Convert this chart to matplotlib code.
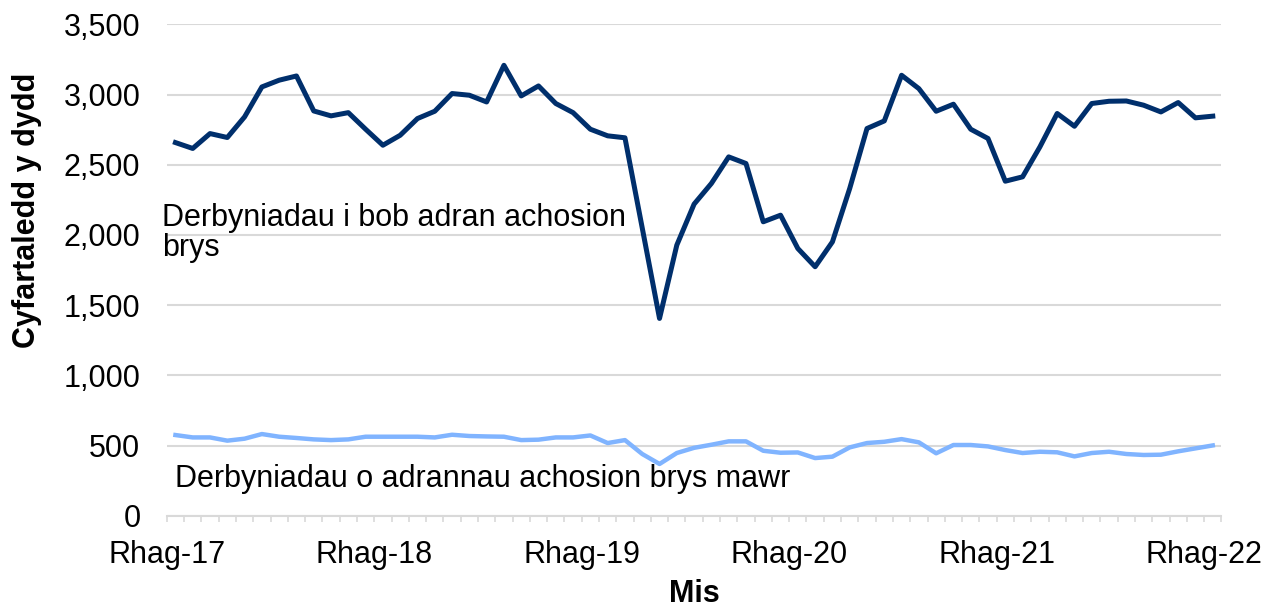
import matplotlib.pyplot as plt
import numpy as np

plt.rcParams['font.family'] = ['Liberation Sans', 'DejaVu Sans']

# %%
# Monthly values, Rhag-17 to Rhag-22
tick_labels = ['Rhag-17', 'Rhag-18', 'Rhag-19', 'Rhag-20', 'Rhag-21', 'Rhag-22']

all_ed = [2658, 2616, 2722, 2694, 2841, 3054, 3102, 3132, 2883, 2848,
          2871, 2753, 2639, 2710, 2829, 2881, 3007, 2995, 2947, 3208,
          2990, 3061, 2936, 2871, 2753, 2706, 2692, 2050, 1406, 1928,
          2220, 2367, 2556, 2509, 2094, 2141, 1904, 1774, 1951, 2331,
          2758, 2812, 3137, 3042, 2881, 2931, 2753, 2687, 2383, 2414,
          2627, 2865, 2774, 2936, 2952, 2954, 2924, 2876, 2943, 2834,
          2846]

major_ed = [576, 559, 559, 536, 550, 583, 564, 555, 545, 540,
            545, 564, 564, 564, 564, 559, 578, 569, 566, 564,
            540, 543, 559, 559, 573, 519, 540, 441, 370, 448,
            485, 507, 531, 531, 464, 450, 452, 412, 422, 488,
            519, 528, 547, 524, 446, 505, 505, 495, 469, 448,
            457, 453, 424, 448, 457, 441, 434, 436, 460, 481,
            502]

label_all = 'Derbyniadau i bob adran achosion\nbrys'
label_major = 'Derbyniadau o adrannau achosion brys mawr'

# %%
x = np.arange(len(all_ed))
fs = 22

fig = plt.figure(figsize=(12.83, 6.07), dpi=100)
ax = fig.add_axes([0.130, 0.150, 0.822, 0.810])

ax.plot(x, all_ed, color='#002F6C', lw=3.6, solid_joinstyle='round', zorder=3)
ax.plot(x, major_ed, color='#80B4FF', lw=3.2, solid_joinstyle='round', zorder=3)

ax.text(-0.8, 2225, label_all, fontsize=fs, va='top', ha='left',
        linespacing=1.0)
ax.text(0.0, 263, label_major, fontsize=fs, va='center', ha='left')

ax.set_xlim(-0.5, len(x) - 0.5)
ax.set_ylim(0, 3500)
ax.set_yticks(np.arange(0, 3501, 500))
ax.set_yticklabels([f'{v:,}' for v in range(0, 3501, 500)])
ax.yaxis.grid(True, color='#D9D9D9', lw=1.5)
ax.set_axisbelow(True)

major_pos = [i * 12 - 0.5 for i in range(len(tick_labels))]
major_pos[-1] = len(x) - 1.5
ax.set_xticks(major_pos)
ax.set_xticklabels(tick_labels)
ax.set_xticks(np.arange(len(x) + 1) - 0.5, minor=True)
ax.tick_params(axis='x', which='both', length=4.5, width=1.2, color='#D9D9D9',
               labelsize=fs, pad=13)
ax.tick_params(axis='y', length=0, labelsize=fs, pad=19)

for side in ['left', 'right', 'top']:
    ax.spines[side].set_visible(False)
ax.spines['bottom'].set_color('#D9D9D9')
ax.spines['bottom'].set_linewidth(1.5)

ax.set_xlabel('Mis', fontsize=fs, fontweight='bold', labelpad=6)
ax.set_ylabel('Cyfartaledd y dydd', fontsize=fs, fontweight='bold')
ax.yaxis.set_label_coords(-0.118, 0.622)

plt.savefig('out.png', dpi=100)
